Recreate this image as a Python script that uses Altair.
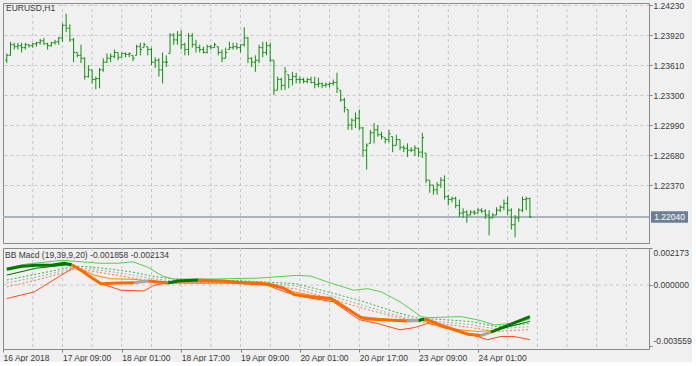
import altair as alt
import pandas as pd

symbol_title = "EURUSD,H1"
ind_title = "BB Macd (19,39,9,20) -0.001858 -0.002134"
current_price = 1.22040

opens = [1.2366, 1.2371, 1.2382, 1.2380, 1.2381, 1.2379, 1.2382, 1.2381, 1.2383, 1.2384,
         1.2386, 1.2383, 1.2381, 1.2384, 1.2385, 1.2389, 1.2402, 1.2399, 1.2387, 1.2374,
         1.2371, 1.2368, 1.2349, 1.2356, 1.2346, 1.2347, 1.2356, 1.2364, 1.2368, 1.2370,
         1.2374, 1.2369, 1.2373, 1.2372, 1.2371, 1.2371, 1.2380, 1.2379, 1.2380, 1.2377,
         1.2364, 1.2366, 1.2356, 1.2364, 1.2373, 1.2392, 1.2387, 1.2392, 1.2382, 1.2377,
         1.2391, 1.2382, 1.2379, 1.2377, 1.2374, 1.2380, 1.2379, 1.2380, 1.2374, 1.2368,
         1.2377, 1.2379, 1.2380, 1.2379, 1.2382, 1.2389, 1.2368, 1.2364, 1.2366, 1.2379,
         1.2374, 1.2381, 1.2366, 1.2335, 1.2346, 1.2340, 1.2351, 1.2346, 1.2349, 1.2346,
         1.2346, 1.2344, 1.2346, 1.2343, 1.2341, 1.2342, 1.2340, 1.2341, 1.2342, 1.2343,
         1.2335, 1.2325, 1.2315, 1.2299, 1.2304, 1.2306, 1.2296, 1.2273, 1.2280, 1.2291,
         1.2294, 1.2289, 1.2286, 1.2284, 1.2287, 1.2278, 1.2284, 1.2276, 1.2275, 1.2273,
         1.2273, 1.2275, 1.2271, 1.2270, 1.2242, 1.2237, 1.2232, 1.2237, 1.2242, 1.2225,
         1.2222, 1.2223, 1.2216, 1.2208, 1.2209, 1.2206, 1.2209, 1.2208, 1.2211, 1.2210,
         1.2206, 1.2203, 1.2206, 1.2211, 1.2214, 1.2218, 1.2211, 1.2196, 1.2203, 1.2211,
         1.2222, 1.2223]
highs = [1.2373, 1.2385, 1.2384, 1.2384, 1.2384, 1.2384, 1.2382, 1.2384, 1.2385, 1.2388,
         1.2389, 1.2384, 1.2385, 1.2387, 1.2390, 1.2404, 1.2414, 1.2403, 1.2389, 1.2374,
         1.2382, 1.2369, 1.2361, 1.2356, 1.2349, 1.2358, 1.2368, 1.2373, 1.2373, 1.2377,
         1.2374, 1.2374, 1.2374, 1.2374, 1.2371, 1.2382, 1.2384, 1.2384, 1.2380, 1.2379,
         1.2369, 1.2368, 1.2374, 1.2371, 1.2394, 1.2394, 1.2396, 1.2397, 1.2384, 1.2394,
         1.2394, 1.2387, 1.2382, 1.2380, 1.2382, 1.2382, 1.2384, 1.2380, 1.2377, 1.2379,
         1.2385, 1.2384, 1.2384, 1.2382, 1.2400, 1.2390, 1.2369, 1.2371, 1.2382, 1.2385,
         1.2385, 1.2384, 1.2366, 1.2349, 1.2348, 1.2359, 1.2351, 1.2354, 1.2353, 1.2349,
         1.2348, 1.2348, 1.2349, 1.2349, 1.2348, 1.2343, 1.2343, 1.2343, 1.2346, 1.2353,
         1.2335, 1.2327, 1.2315, 1.2306, 1.2312, 1.2315, 1.2297, 1.2280, 1.2294, 1.2301,
         1.2299, 1.2292, 1.2286, 1.2294, 1.2287, 1.2289, 1.2284, 1.2278, 1.2280, 1.2276,
         1.2278, 1.2275, 1.2291, 1.2270, 1.2242, 1.2237, 1.2240, 1.2245, 1.2247, 1.2227,
         1.2225, 1.2225, 1.2222, 1.2213, 1.2211, 1.2211, 1.2211, 1.2213, 1.2213, 1.2212,
         1.2211, 1.2208, 1.2214, 1.2216, 1.2222, 1.2225, 1.2213, 1.2206, 1.2213, 1.2225,
         1.2225, 1.2224]
lows = [1.2363, 1.2371, 1.2377, 1.2377, 1.2374, 1.2377, 1.2379, 1.2379, 1.2380, 1.2382,
        1.2382, 1.2377, 1.2380, 1.2382, 1.2382, 1.2385, 1.2395, 1.2385, 1.2364, 1.2369,
        1.2363, 1.2346, 1.2348, 1.2342, 1.2336, 1.2337, 1.2354, 1.2363, 1.2364, 1.2368,
        1.2366, 1.2369, 1.2369, 1.2369, 1.2365, 1.2371, 1.2371, 1.2379, 1.2371, 1.2361,
        1.2358, 1.2349, 1.2342, 1.2359, 1.2373, 1.2382, 1.2382, 1.2377, 1.2371, 1.2371,
        1.2379, 1.2374, 1.2374, 1.2373, 1.2373, 1.2377, 1.2379, 1.2371, 1.2364, 1.2368,
        1.2377, 1.2377, 1.2377, 1.2374, 1.2380, 1.2363, 1.2359, 1.2354, 1.2363, 1.2369,
        1.2371, 1.2364, 1.2330, 1.2335, 1.2335, 1.2335, 1.2337, 1.2340, 1.2342, 1.2342,
        1.2342, 1.2342, 1.2342, 1.2337, 1.2338, 1.2337, 1.2338, 1.2338, 1.2340, 1.2332,
        1.2323, 1.2312, 1.2294, 1.2294, 1.2296, 1.2294, 1.2266, 1.2253, 1.2280, 1.2280,
        1.2287, 1.2284, 1.2280, 1.2281, 1.2271, 1.2278, 1.2273, 1.2271, 1.2266, 1.2271,
        1.2267, 1.2266, 1.2265, 1.2239, 1.2229, 1.2227, 1.2227, 1.2234, 1.2222, 1.2216,
        1.2219, 1.2213, 1.2204, 1.2203, 1.2198, 1.2206, 1.2206, 1.2208, 1.2208, 1.2202,
        1.2185, 1.2203, 1.2206, 1.2209, 1.2211, 1.2206, 1.2191, 1.2183, 1.2199, 1.2209,
        1.2211, 1.2203]
closes = [1.2371, 1.2382, 1.2380, 1.2381, 1.2379, 1.2382, 1.2381, 1.2383, 1.2384, 1.2386,
          1.2383, 1.2381, 1.2384, 1.2385, 1.2389, 1.2402, 1.2399, 1.2387, 1.2374, 1.2371,
          1.2368, 1.2349, 1.2356, 1.2346, 1.2347, 1.2356, 1.2364, 1.2368, 1.2370, 1.2374,
          1.2369, 1.2373, 1.2372, 1.2373, 1.2368, 1.2380, 1.2377, 1.2382, 1.2377, 1.2364,
          1.2366, 1.2356, 1.2364, 1.2364, 1.2392, 1.2387, 1.2392, 1.2382, 1.2377, 1.2391,
          1.2382, 1.2379, 1.2377, 1.2374, 1.2380, 1.2379, 1.2382, 1.2374, 1.2368, 1.2374,
          1.2379, 1.2380, 1.2379, 1.2382, 1.2389, 1.2368, 1.2364, 1.2366, 1.2379, 1.2374,
          1.2381, 1.2366, 1.2335, 1.2346, 1.2340, 1.2354, 1.2346, 1.2349, 1.2346, 1.2346,
          1.2344, 1.2346, 1.2343, 1.2341, 1.2342, 1.2340, 1.2341, 1.2342, 1.2343, 1.2337,
          1.2325, 1.2317, 1.2299, 1.2304, 1.2306, 1.2296, 1.2273, 1.2278, 1.2291, 1.2294,
          1.2289, 1.2287, 1.2284, 1.2290, 1.2278, 1.2284, 1.2276, 1.2275, 1.2273, 1.2273,
          1.2275, 1.2271, 1.2286, 1.2242, 1.2237, 1.2232, 1.2237, 1.2242, 1.2225, 1.2222,
          1.2223, 1.2216, 1.2208, 1.2209, 1.2206, 1.2209, 1.2208, 1.2211, 1.2210, 1.2206,
          1.2203, 1.2206, 1.2211, 1.2214, 1.2218, 1.2211, 1.2196, 1.2203, 1.2211, 1.2222,
          1.2223, 1.2204]

price_ticks = [1.24230, 1.23920, 1.23610, 1.23300, 1.22990, 1.22680, 1.22370]
ind_ticks = [0.002173, 0.0, -0.003559]
time_tick_idx = [-1, 15, 31, 47, 63, 79, 95, 111, 127]
time_tick_labels = ["16 Apr 2018", "17 Apr 09:00", "18 Apr 01:00", "18 Apr 17:00",
                    "19 Apr 09:00", "20 Apr 01:00", "20 Apr 17:00", "23 Apr 09:00",
                    "24 Apr 01:00"]
grid_idx = [7, 15, 23, 31, 39, 47, 55, 63, 71, 79, 87, 95, 103, 111, 119, 127,
            135, 143, 151, 159, 167]

# BB MACD thick line, segments by state
macd_segments = [
    ("up", [0, 4, 8, 12, 15.5, 17.5], [0.000930, 0.001104, 0.001162, 0.001162, 0.001278, 0.001191]),
    ("down", [17.5, 20, 22, 25.4, 30, 34.3], [0.001191, 0.000872, 0.000564, 0.000076, 0.000116, 0.000134]),
    ("flat", [34.3, 38.1], [0.000134, 0.000232]),
    ("down", [38.1, 43.5], [0.000232, 0.000116]),
    ("up", [43.5, 46, 51.6], [0.000116, 0.000232, 0.000291]),
    ("down", [51.6, 58, 63.2, 70.4, 74.5, 77.5, 82, 87.4, 90, 95.5, 97.3, 108],
     [0.000291, 0.000232, 0.000145, 0.000058, -0.000174, -0.000564, -0.000697, -0.000796,
      -0.001145, -0.001917, -0.001994, -0.002109]),
    ("flat", [108, 111], [-0.002109, -0.002091]),
    ("up", [111, 112.5], [-0.002091, -0.001994]),
    ("down", [112.5, 113.5, 118, 124.3, 127.8], [-0.001994, -0.002051, -0.002440, -0.002888, -0.002964]),
    ("flat", [127.8, 130.5], [-0.002964, -0.002772]),
    ("up", [130.5, 141], [-0.002772, -0.001858]),
]
signal_segments = [
    ("up", [0, 8, 16, 17.5], [0.000581, 0.000988, 0.001179, 0.001162]),
    ("down", [17.5, 23.5, 28, 34.3, 40, 50, 63, 68.6, 77.5, 86.6, 95.5, 104.4, 111.7, 118, 127, 131.4],
     [0.001162, 0.000581, 0.000366, 0.000331, 0.000174, 0.000203, 0.000174, 0.000174, -0.000407,
      -0.000796, -0.001859, -0.002051, -0.002051, -0.002539, -0.002731, -0.002673]),
    ("up", [131.4, 141], [-0.002673, -0.002134]),
]
upper_idx = [0, 5, 10, 15, 20, 25, 30, 34, 38, 42, 45, 55, 68, 78, 82, 86.5, 93.5, 97.3, 101,
             106, 111.7, 113.5, 122.5, 127, 131.4, 136.8, 141]
upper_val = [0.000988, 0.001220, 0.001336, 0.001453, 0.001365, 0.001278, 0.001278, 0.001365,
             0.001046, 0.000523, 0.000349, 0.000349, 0.000407, 0.000564, 0.000523, 0.000174,
             -0.000308, -0.000215, -0.000407, -0.000988, -0.001859, -0.001917, -0.001859,
             -0.002051, -0.002341, -0.002248, -0.001994]
lower_idx = [0, 7.4, 14.6, 18.2, 21, 25.4, 30.8, 37, 39.7, 43, 60, 70, 75, 80, 88, 95, 100,
             106, 110, 113.5, 122.5, 129.6, 133.2, 136.8, 141]
lower_val = [-0.000796, -0.000407, 0.000564, 0.001046, 0.000755, 0.000076, -0.000308, -0.000349,
             -0.000017, 0.000116, 0.000116, 0.0, -0.000407, -0.000697, -0.000988, -0.002034,
             -0.002266, -0.002632, -0.002498, -0.002248, -0.002731, -0.003213, -0.003022,
             -0.003022, -0.003213]
dot_idx = [0, 8, 16, 18, 22, 28, 34, 39, 45, 55, 65, 70, 78, 86.6, 95.5, 104.4, 111, 118, 125, 132, 141]
dot_green = [0.000291, 0.000639, 0.000988, 0.001104, 0.001075, 0.000930, 0.000755, 0.000523,
             0.000349, 0.000291, 0.000232, 0.000174, 0.000076, -0.000407, -0.000930, -0.001569,
             -0.001958, -0.002034, -0.002150, -0.002440, -0.002266]
dot_grey = [0.000116, 0.000465, 0.000872, 0.001017, 0.000959, 0.000784, 0.000581, 0.000378,
            0.000232, 0.000203, 0.000145, 0.000087, -0.000058, -0.000581, -0.001162, -0.001743,
            -0.002063, -0.002179, -0.002324, -0.002586, -0.002440]
dot_orange = [-0.000116, 0.000291, 0.000755, 0.000930, 0.000842, 0.000639, 0.000407, 0.000232,
              0.000116, 0.000116, 0.000058, 0.0, -0.000232, -0.000755, -0.001336, -0.001859,
              -0.002150, -0.002295, -0.002498, -0.002731, -0.002615]

FONT = "Liberation Sans"
TXT = "#3a3a3a"
BG = "#f0f0f0"
GRID = "#c6c6c6"
W = 646
X_DOM = [-1.02, 173.1]

xs = alt.Scale(domain=X_DOM, nice=False, zero=False)

bars = pd.DataFrame({"i": list(range(len(opens))), "o": opens, "h": highs, "l": lows, "c": closes})
grid_df = pd.DataFrame({"g": grid_idx})

# ---------- top pane ----------
ys = alt.Scale(domain=[1.21771, 1.24251], nice=False, zero=False)
yaxis = alt.Axis(orient="right", values=price_ticks, format=".5f", grid=True, gridDash=[3, 3],
                 gridColor=GRID, domain=False, tickSize=3, tickColor="#808080",
                 labelColor=TXT, labelFont=FONT, labelFontSize=8.5, labelPadding=1, title=None,
                 labelOverlap=False, labelBound=False, labelFlush=False)

vgrid_top = alt.Chart(grid_df).mark_rule(color=GRID, strokeDash=[3, 3], strokeWidth=1).encode(
    x=alt.X("g:Q", scale=xs, axis=None))
cp = pd.DataFrame({"p": [current_price], "lab": ["%.5f" % current_price]})
pline = alt.Chart(cp).mark_rule(color="#a9b3bd", strokeWidth=2).encode(
    y=alt.Y("p:Q", scale=ys, axis=yaxis), x=alt.value(0), x2=alt.value(W))

base = alt.Chart(bars)
hl = base.mark_rule(color="#119011", strokeWidth=1).encode(
    x=alt.X("i:Q", scale=xs, axis=None),
    y=alt.Y("h:Q", scale=ys, axis=yaxis),
    y2="l:Q")
otick = base.transform_calculate(xl="datum.i - 0.45").mark_rule(color="#119011", strokeWidth=1).encode(
    x=alt.X("xl:Q", scale=xs, axis=None), x2="i:Q", y=alt.Y("o:Q", scale=ys, axis=yaxis))
ctick = base.transform_calculate(xr="datum.i + 0.45").mark_rule(color="#119011", strokeWidth=1).encode(
    x=alt.X("i:Q", scale=xs, axis=None), x2="xr:Q", y=alt.Y("c:Q", scale=ys, axis=yaxis))

pbox = alt.Chart(cp).transform_calculate(
    pt="datum.p + 0.00060", pb="datum.p - 0.00060").mark_rect(color="#6c7f93", clip=False).encode(
    y=alt.Y("pt:Q", scale=ys, axis=yaxis), y2="pb:Q", x=alt.value(648), x2=alt.value(685))
ptext = alt.Chart(cp).mark_text(color="white", font=FONT, fontSize=8.5, align="center",
                                baseline="middle", clip=False).encode(
    y=alt.Y("p:Q", scale=ys, axis=yaxis), x=alt.value(666.5), text="lab:N")
ttl = alt.Chart(pd.DataFrame({"t": [symbol_title]})).mark_text(
    align="left", baseline="middle", font=FONT, fontSize=8.5, color=TXT).encode(
    x=alt.value(3), y=alt.value(5), text="t:N")

top = alt.layer(vgrid_top, pline, hl, otick, ctick, pbox, ptext, ttl).properties(width=W, height=240)

# ---------- bottom pane ----------
rows = []
for k, (state, ii, vv) in enumerate(macd_segments):
    for a, b in zip(ii, vv):
        rows.append({"i": a, "v": b, "seg": "m%d" % k, "state": state})
macd_df = pd.DataFrame(rows)
rows = []
for k, (state, ii, vv) in enumerate(signal_segments):
    for a, b in zip(ii, vv):
        rows.append({"i": a, "v": b, "seg": "s%d" % k, "state": state})
sig_df = pd.DataFrame(rows)
band_df = pd.concat([
    pd.DataFrame({"i": upper_idx, "v": upper_val, "name": "upper"}),
    pd.DataFrame({"i": lower_idx, "v": lower_val, "name": "lower"}),
])
dot_df = pd.concat([
    pd.DataFrame({"i": dot_idx, "v": dot_green, "name": "dg"}),
    pd.DataFrame({"i": dot_idx, "v": dot_grey, "name": "dy"}),
    pd.DataFrame({"i": dot_idx, "v": dot_orange, "name": "do"}),
])

ys2 = alt.Scale(domain=[-0.003759, 0.002173], nice=False, zero=False)
yaxis2 = alt.Axis(orient="right", values=ind_ticks, grid=False, domain=False, tickSize=3,
                  tickColor="#808080", labelColor=TXT, labelFont=FONT, labelFontSize=8.5,
                  labelPadding=1, title=None, labelOverlap=False, labelBound=False, labelFlush=False,
                  labelExpr="datum.value < 0 ? '-' + format(-datum.value, '.6f') : format(datum.value, '.6f')",
                  labelBaseline={"condition": [{"test": "datum.value > 0.001", "value": "top"},
                                               {"test": "datum.value < -0.001", "value": "bottom"}],
                                 "value": "middle"})
lab_js = "[" + ",".join("'%s'" % s for s in time_tick_labels) + "]"
xaxis2 = alt.Axis(values=time_tick_idx, grid=False, domain=False, tickSize=3, tickColor="#808080",
                  labelColor=TXT, labelFont=FONT, labelFontSize=8.5, labelPadding=1,
                  labelAlign="left", labelBaseline="top", labelFlush=False,
                  labelOverlap=False, labelBound=False, title=None,
                  labelExpr=lab_js + "[round((datum.value + 1) / 16)]")

vgrid_bot = alt.Chart(grid_df).mark_rule(color=GRID, strokeDash=[3, 3], strokeWidth=1).encode(
    x=alt.X("g:Q", scale=xs, axis=xaxis2))
zero = alt.Chart(pd.DataFrame({"z": [0.0]})).mark_rule(color=GRID, strokeDash=[3, 3]).encode(
    y=alt.Y("z:Q", scale=ys2, axis=yaxis2))
dots = alt.Chart(dot_df).mark_line(strokeWidth=1, strokeDash=[2, 2]).encode(
    x=alt.X("i:Q", scale=xs, axis=xaxis2), y=alt.Y("v:Q", scale=ys2, axis=yaxis2),
    color=alt.Color("name:N", scale=alt.Scale(domain=["dg", "dy", "do"],
                                              range=["#3cb43c", "#a8a8a8", "#ff7a45"]), legend=None))
bands = alt.Chart(band_df).mark_line(strokeWidth=1).encode(
    x=alt.X("i:Q", scale=xs, axis=xaxis2), y=alt.Y("v:Q", scale=ys2, axis=yaxis2),
    color=alt.Color("name:N", scale=alt.Scale(domain=["upper", "lower"],
                                              range=["#4fd34f", "#ff4a1a"]), legend=None))
sig = alt.Chart(sig_df).mark_line(strokeWidth=1).encode(
    x=alt.X("i:Q", scale=xs, axis=xaxis2), y=alt.Y("v:Q", scale=ys2, axis=yaxis2), detail="seg:N",
    color=alt.Color("state:N", scale=alt.Scale(domain=["up", "down"],
                                               range=["#006a00", "#ff8c00"]), legend=None))
macd = alt.Chart(macd_df).mark_line(strokeWidth=3).encode(
    x=alt.X("i:Q", scale=xs, axis=xaxis2), y=alt.Y("v:Q", scale=ys2, axis=yaxis2), detail="seg:N",
    color=alt.Color("state:N", scale=alt.Scale(domain=["up", "down", "flat"],
                                               range=["#007800", "#ff6a00", "#a6a6a6"]), legend=None))
ttl2 = alt.Chart(pd.DataFrame({"t": [ind_title]})).mark_text(
    align="left", baseline="middle", font=FONT, fontSize=8.5, color=TXT).encode(
    x=alt.value(2), y=alt.value(7), text="t:N")

bottom = alt.layer(vgrid_bot, zero, dots, bands, sig, macd, ttl2).resolve_scale(
    color="independent").properties(width=W, height=101)

chart = alt.vconcat(top, bottom, spacing=3).properties(
    padding={"left": 0, "top": 0, "right": 0, "bottom": 0},
    background=BG,
).configure_view(stroke="#8a8a8a", strokeWidth=1, fill=BG)

chart.save("out.html", embed_options={"renderer": "svg", "actions": False})
